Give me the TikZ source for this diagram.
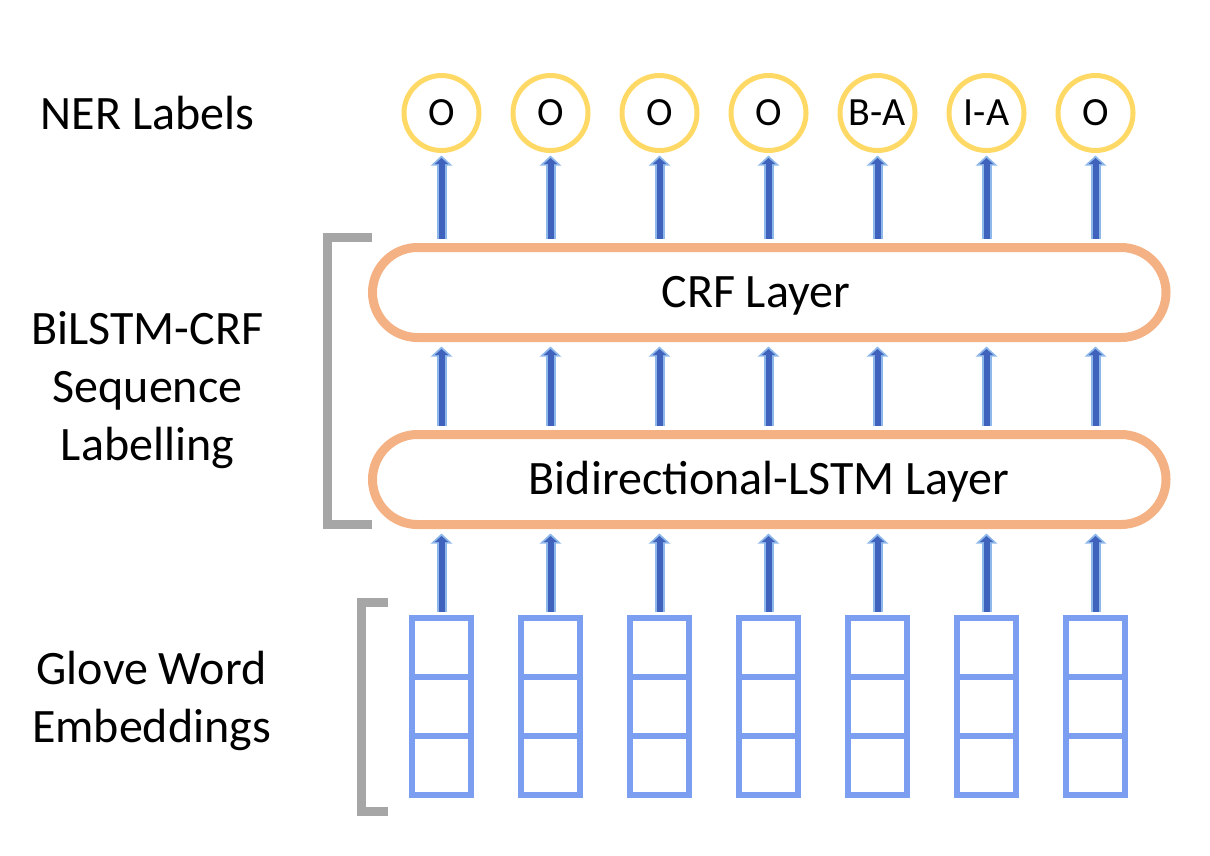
\documentclass[tikz,border=0pt]{standalone}
\usepackage{fontspec}
\setmainfont{Carlito}
\usetikzlibrary{arrows.meta,calc}
\definecolor{layerC}{HTML}{F4B183}
\definecolor{labelC}{HTML}{FFD966}
\definecolor{embC}{HTML}{7B9EF0}
\definecolor{brC}{HTML}{A6A6A6}
\definecolor{arrDark}{HTML}{3F63BD}
\definecolor{arrLight}{HTML}{8FB8EA}
\tikzset{
  lbl/.style={circle, draw=labelC, line width=5pt, minimum size=75pt, inner sep=0pt, font=\fontsize{40}{40}\selectfont},
  layer/.style={rounded corners=45pt, draw=layerC, line width=9pt, minimum width=793.5pt, minimum height=90pt, inner sep=0pt},
  layertext/.style={font=\fontsize{48}{50}\selectfont, inner sep=0pt},
  cell/.style={draw=embC, line width=6pt, minimum size=59pt, inner sep=0pt},
  side/.style={align=center, font=\fontsize{48}{58}\selectfont},
  bracket/.style={draw=brC, line width=9pt},
  arrlo/.style={draw=arrLight, line width=10pt, -{Triangle[width=21pt,length=10pt]}},
  arrhi/.style={draw=arrDark, line width=6pt, shorten >=2.5pt, -{Triangle[width=13pt,length=6pt]}},
}
\newcommand{\blockarrow}[2]{%
  \draw[arrlo] #1 -- #2;
  \draw[arrhi] #1 -- #2;
}
\begin{document}
\begin{tikzpicture}[x=1pt,y=-1pt]
\useasboundingbox (0,0) rectangle (1210,855);
% side labels
\node[side] (ner) at (147.5,113) {NER Labels};
\node[side] (seq) at (147.5,390) {BiLSTM-CRF\\Sequence\\Labelling};
\node[side] (glove) at (151.5,701) {Glove Word\\Embeddings};
% layers
\node[layer] (crf) at (769.25,292.5) {};
\node[layertext] (crftext) at ($(crf.center)+(-13.5,3.5)$) {CRF Layer};
\node[layer] (lstm) at (769.25,479.5) {};
\node[layertext] (lstmtext) at ($(lstm.center)+(0,2.5)$) {Bidirectional-LSTM Layer};
% labels and embeddings
\foreach \i/\t in {1/O,2/O,3/O,4/O,5/B-A,6/I-A,7/O}{
  \pgfmathsetmacro{\cx}{441.5+109*(\i-1)}
  \node[lbl] (l\i) at (\cx,113) {\t};
  \node[cell] (ea\i) at (\cx,647.5) {};
  \node[cell] (eb\i) at (\cx,706.5) {};
  \node[cell] (ec\i) at (\cx,765.5) {};
  \coordinate (eTop\i) at ($(ea\i.north)+(0,-3)$);
  \coordinate (lstmB\i) at (ea\i.north |- lstm.south);
  \coordinate (lstmT\i) at (ea\i.north |- lstm.north);
  \coordinate (crfB\i) at (ea\i.north |- crf.south);
  \coordinate (crfT\i) at (ea\i.north |- crf.north);
  \coordinate (lB\i) at ($(l\i.south)+(0,2.5)$);
  \blockarrow{(eTop\i)}{($(lstmB\i)+(0,4.5)$)}
  \blockarrow{($(lstmT\i)+(0,-4.5)$)}{($(crfB\i)+(0,4.5)$)}
  \blockarrow{($(crfT\i)+(0,-4.5)$)}{(lB\i)}
}
% brackets
\coordinate (b1t) at (372,237.5);
\coordinate (b1b) at (372,524.5);
\draw[bracket] (b1t) -| (327.5,237.5) |- (b1b);
\coordinate (b2t) at (388,602.5);
\coordinate (b2b) at (388,811.5);
\draw[bracket] (b2t) -| (361.5,602.5) |- (b2b);
\end{tikzpicture}
\end{document}
